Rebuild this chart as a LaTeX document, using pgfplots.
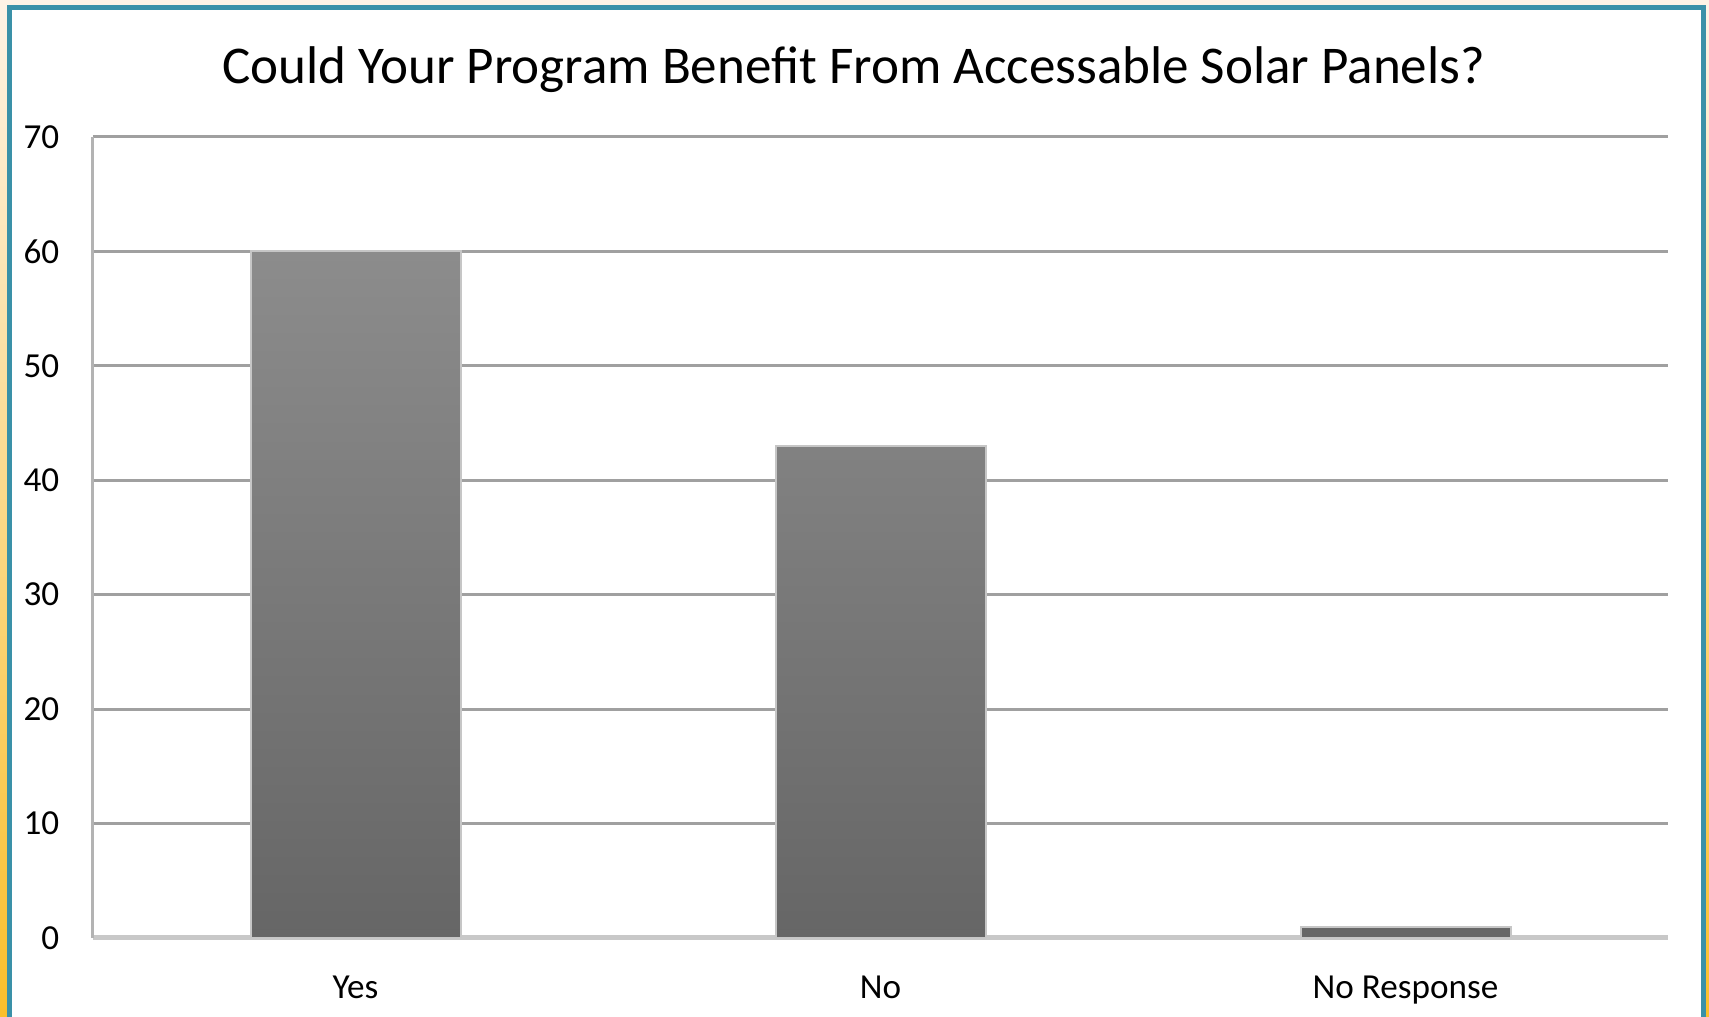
\documentclass[border=0pt]{standalone}
\usepackage{fontspec}
\setmainfont{Carlito}
\usepackage{pgfplots}
\pgfplotsset{compat=1.18}

\definecolor{frameteal}{HTML}{3A91A8}
\definecolor{bgcream}{HTML}{FDF3E6}
\definecolor{bgorange}{HTML}{FBBF2A}
\definecolor{gridgray}{HTML}{A0A0A0}
\definecolor{basegray}{HTML}{C8C8C8}
\definecolor{bartop}{HTML}{8C8C8C}
\definecolor{barbottom}{HTML}{666666}

\begin{document}
\begin{tikzpicture}
% 1 px of the reference = 0.1 mm
\useasboundingbox (-9.3mm,-7.9mm) rectangle (161.6mm,93.8mm);
\shade[top color=bgcream, bottom color=bgorange] (-9.3mm,-7.9mm) rectangle (161.6mm,93.8mm);
\filldraw[fill=white, draw=frameteal, line width=0.55mm]
  (-8.35mm,-12mm) rectangle (161.05mm,93.05mm);
\begin{axis}[
    at={(0,0)}, anchor=south west,
    scale only axis,
    width=157.5mm, height=80.1mm,
    ybar, bar width=0.4, bar shift=0pt,
    xmin=-0.5, xmax=2.5,
    ymin=0, ymax=70,
    xtick={0,1,2},
    xticklabels={Yes,No,No Response},
    ytick={0,10,...,70},
    major tick length=0,
    axis lines*=left,
    x axis line style={basegray, line width=0.5mm},
    y axis line style={gridgray!80, line width=0.3mm},
    ymajorgrids,
    grid style={gridgray, line width=0.3mm},
    /pgf/number format/assume math mode=true,
    tick label style={font=\fontsize{10}{12}\selectfont, inner sep=0pt},
    yticklabel style={anchor=east, xshift=-3.3mm},
    xticklabel style={anchor=north, yshift=-3.7mm},
    title={Could Your Program Benefit From Accessable Solar Panels?},
    title style={at={(0.483,1)}, anchor=center, yshift=4.6mm,
      font=\fontsize{15.1}{18}\selectfont},
]
\addplot[draw=gray!45, line width=0.2mm, top color=bartop, bottom color=barbottom]
  coordinates {(0,60) (1,43) (2,1)};
\end{axis}
\end{tikzpicture}
\end{document}
